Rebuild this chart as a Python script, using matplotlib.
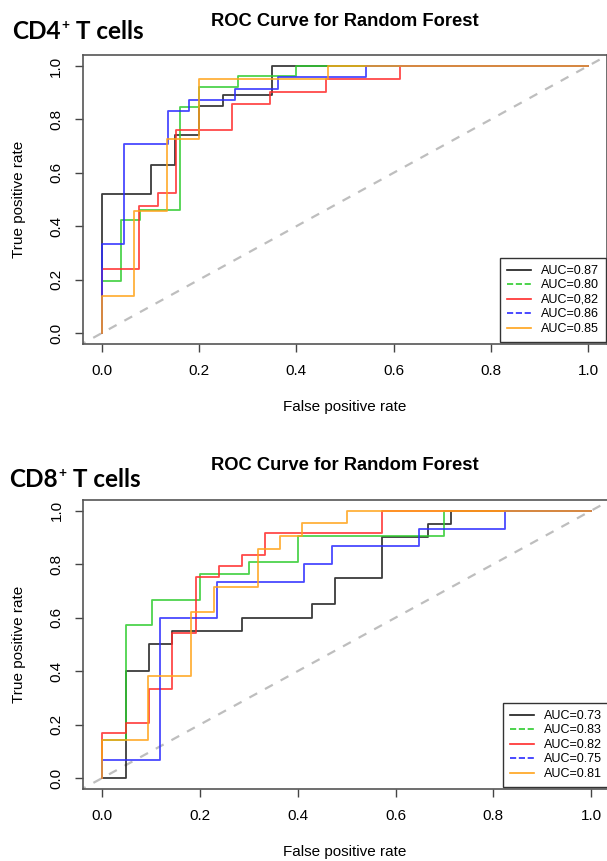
import matplotlib
matplotlib.use('Agg')
import matplotlib.pyplot as plt
from matplotlib.lines import Line2D

# ---------------- data (ROC step points, drawn with steps-pre) ----------------
cd4_black_fpr = [0, 0.10, 0.15, 0.20, 0.25, 0.35, 1.0]
cd4_black_tpr = [0, 0.52, 0.63, 0.74, 0.85, 0.89, 1.0]
cd4_green_fpr = [0, 0.039, 0.079, 0.16, 0.20, 0.279, 0.40, 1.0]
cd4_green_tpr = [0, 0.194, 0.423, 0.46, 0.845, 0.923, 0.963, 1.0]
cd4_red_fpr = [0, 0.076, 0.115, 0.153, 0.268, 0.345, 0.461, 0.613, 1.0]
cd4_red_tpr = [0, 0.238, 0.476, 0.523, 0.76, 0.856, 0.904, 0.951, 1.0]
cd4_blue_fpr = [0, 0.045, 0.136, 0.18, 0.273, 0.363, 0.543, 1.0]
cd4_blue_tpr = [0, 0.335, 0.706, 0.831, 0.874, 0.915, 0.958, 1.0]
cd4_orange_fpr = [0, 0.066, 0.134, 0.20, 0.465, 1.0]
cd4_orange_tpr = [0, 0.1375, 0.456, 0.7275, 0.951, 1.0]
cd4_auc_labels = ["AUC=0.87", "AUC=0.80", "AUC=0,82", "AUC=0.86", "AUC=0.85"]

cd8_black_fpr = [0, 0.048, 0.096, 0.143, 0.286, 0.429, 0.477, 0.572, 0.667, 0.714, 1.0]
cd8_black_tpr = [0, 0, 0.40, 0.50, 0.55, 0.60, 0.65, 0.75, 0.90, 0.95, 1.0]
cd8_green_fpr = [0, 0.048, 0.101, 0.20, 0.30, 0.401, 0.699, 1.0]
cd8_green_tpr = [0, 0.143, 0.571, 0.666, 0.762, 0.809, 0.905, 1.0]
cd8_red_fpr = [0, 0.048, 0.096, 0.143, 0.191, 0.238, 0.286, 0.333, 0.572, 1.0]
cd8_red_tpr = [0, 0.167, 0.207, 0.334, 0.544, 0.751, 0.793, 0.833, 0.915, 1.0]
cd8_blue_fpr = [0, 0.119, 0.235, 0.412, 0.47, 0.648, 0.824, 1.0]
cd8_blue_tpr = [0, 0.066, 0.599, 0.733, 0.80, 0.867, 0.933, 1.0]
cd8_orange_fpr = [0, 0.093, 0.182, 0.228, 0.319, 0.364, 0.409, 0.50, 1.0]
cd8_orange_tpr = [0, 0.143, 0.38, 0.62, 0.716, 0.857, 0.905, 0.953, 1.0]
cd8_auc_labels = ["AUC=0.73", "AUC=0.83", "AUC=0.82", "AUC=0.75", "AUC=0.81"]

tick_vals = [0.0, 0.2, 0.4, 0.6, 0.8, 1.0]
tick_labels = ["0.0", "0.2", "0.4", "0.6", "0.8", "1.0"]
panel_titles = ["CD4", "CD8"]
main_title = "ROC Curve for Random Forest"
x_label = "False positive rate"
y_label = "True positive rate"

# ---------------- style ----------------
colors = ['#1a1a1a', '#2ecc2e', '#ff2a2a', '#2a2aff', '#ffa31a']
legend_styles = ['-', '--', '-', '--', '-']
RFONT = 'Liberation Sans'
TAGFONT = 'Lato'

W, H = 607, 861
fig = plt.figure(figsize=(W / 100, H / 100), dpi=100)
tags = []


def draw_panel(axpos, curves, labels, title_y, xlabel_y, tag, tag_xy):
    ax = fig.add_axes(axpos)
    ax.plot([-0.05, 1.05], [-0.05, 1.05], color='#bebebe', lw=1.6,
            dashes=(4, 4), zorder=1)
    for (fx, ty), c in zip(curves, colors):
        ax.plot(fx, ty, drawstyle='steps-pre', color=c, lw=1.3, alpha=0.85,
                zorder=2)
    ax.set_xlim(-0.04, 1.04)
    ax.set_ylim(-0.04, 1.04)
    ax.set_xticks(tick_vals)
    ax.set_xticklabels(tick_labels, fontfamily=RFONT, fontsize=11)
    ax.set_yticks(tick_vals)
    ax.set_yticklabels(tick_labels, fontfamily=RFONT, fontsize=11,
                       rotation=90, va='center')
    ax.tick_params(axis='x', length=5.8, width=1.0, color='#444444', pad=9)
    ax.tick_params(axis='y', length=5.8, width=1.0, color='#444444', pad=8)
    for s in ax.spines.values():
        s.set_color('#555555')
        s.set_linewidth(1.2)
    handles = [Line2D([], [], color=c, ls=ls, lw=1.2)
               for c, ls in zip(colors, legend_styles)]
    leg = ax.legend(handles, labels, loc='lower right', borderaxespad=0.15,
                    fancybox=False, framealpha=1, edgecolor='#333333',
                    prop={'family': RFONT, 'size': 9.0}, handlelength=1.9,
                    handletextpad=0.8, labelspacing=0.2, borderpad=0.55)
    leg.get_frame().set_linewidth(1.0)
    fig.text(345 / W, 1 - title_y / H, main_title, ha='center', va='center',
             fontfamily=RFONT, fontweight='bold', fontsize=13.2)
    fig.text(345 / W, 1 - xlabel_y / H, x_label, ha='center', va='center',
             fontfamily=RFONT, fontsize=11)
    ycen = axpos[1] + axpos[3] / 2
    fig.text(19 / W, ycen, y_label, ha='center', va='center', rotation=90,
             fontfamily=RFONT, fontsize=11)
    tags.append((tag, tag_xy))
    return ax


top_curves = [(cd4_black_fpr, cd4_black_tpr), (cd4_green_fpr, cd4_green_tpr),
              (cd4_red_fpr, cd4_red_tpr), (cd4_blue_fpr, cd4_blue_tpr),
              (cd4_orange_fpr, cd4_orange_tpr)]
bot_curves = [(cd8_black_fpr, cd8_black_tpr), (cd8_green_fpr, cd8_green_tpr),
              (cd8_red_fpr, cd8_red_tpr), (cd8_blue_fpr, cd8_blue_tpr),
              (cd8_orange_fpr, cd8_orange_tpr)]

draw_panel([82.5 / W, 1 - 343.7 / H, 525 / W, 288.4 / H], top_curves,
           cd4_auc_labels, 21.5, 407, panel_titles[0], (12, 39))
draw_panel([82.7 / W, 1 - 788.7 / H, 528 / W, 288.7 / H], bot_curves,
           cd8_auc_labels, 465, 852, panel_titles[1], (9, 487))

# panel tags with superscript "+", positioned by measuring rendered text
fig.canvas.draw()
renderer = fig.canvas.get_renderer()
for tag, (tx, ty) in tags:
    t1 = fig.text(tx / W, 1 - ty / H, tag, ha='left', va='baseline',
                  fontfamily=TAGFONT, fontweight='bold', fontsize=17.5)
    bb = t1.get_window_extent(renderer)
    base_px = H - ty
    t2 = fig.text((bb.x1 + 1.0) / W, (base_px + 10.5) / H, '+', ha='left',
                  va='baseline', fontfamily=TAGFONT, fontweight='bold',
                  fontsize=10)
    bb2 = t2.get_window_extent(renderer)
    fig.text((bb2.x1 + 0.5) / W, base_px / H, ' T cells', ha='left',
             va='baseline', fontfamily=TAGFONT, fontweight='bold',
             fontsize=17.5)

fig.savefig('out.png', dpi=100)
